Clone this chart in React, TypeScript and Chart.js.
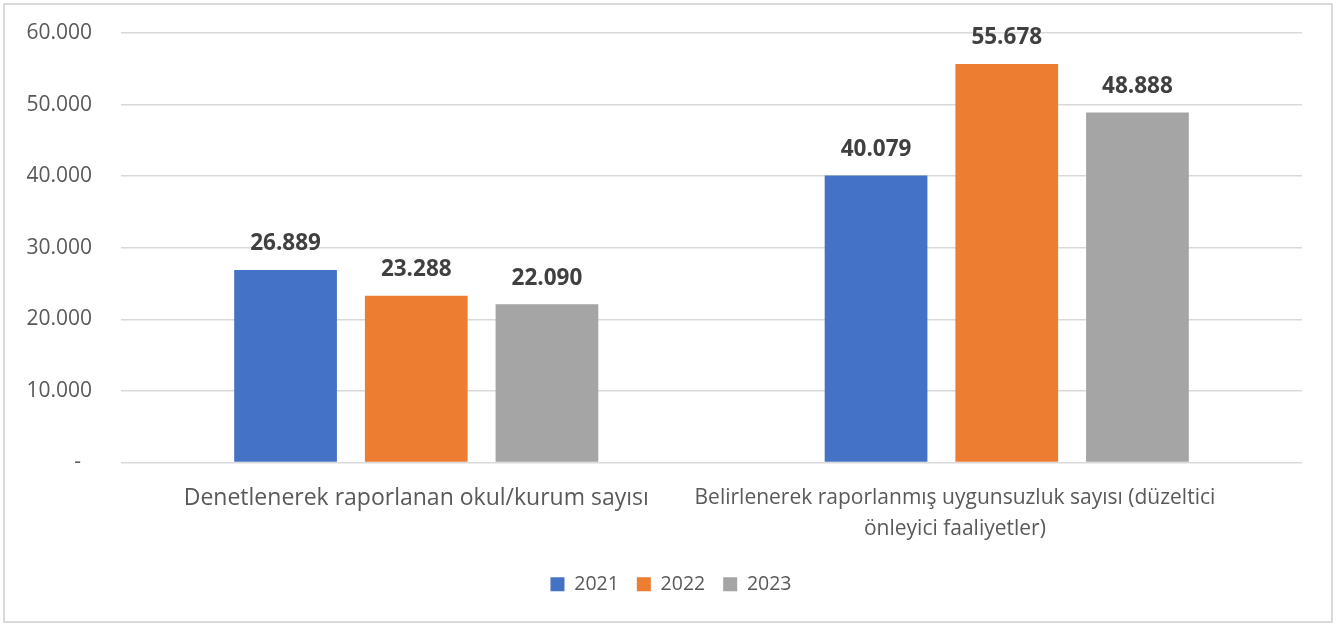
import React, { useEffect, useRef } from "react";
import { Chart, registerables } from "chart.js";

Chart.register(...registerables);

const categories: (string | string[])[] = [
  "Denetlenerek raporlanan okul/kurum sayısı",
  [
    "Belirlenerek raporlanmış uygunsuzluk sayısı (düzeltici" + "\u00A0".repeat(19),
    "önleyici faaliyetler)" + "\u00A0".repeat(19),
  ],
];
const seriesNames = ["2021", "2022", "2023"];
const values2021 = [26889, 40079];
const values2022 = [23288, 55678];
const values2023 = [22090, 48888];
const seriesColors = ["#4472C4", "#ED7D31", "#A5A5A5"];
const yMax = 60000;
const yStep = 10000;

const FONT = '"Open Sans", Lato, sans-serif';

const fmt = (n: number) =>
  String(Math.round(n)).replace(/\B(?=(\d{3})+(?!\d))/g, ".");

const dataLabelPlugin = {
  id: "dataLabels",
  afterDatasetsDraw(chart: any) {
    const ctx = chart.ctx;
    ctx.save();
    ctx.font = `bold 22.5px ${FONT}`;
    ctx.fillStyle = "#404040";
    ctx.textAlign = "center";
    ctx.textBaseline = "middle";
    chart.data.datasets.forEach((ds: any, i: number) => {
      const meta = chart.getDatasetMeta(i);
      meta.data.forEach((el: any, j: number) => {
        ctx.fillText(fmt(ds.data[j]), el.x, el.y - 26);
      });
    });
    ctx.restore();
  },
};

const noScalePadding = (s: any) => {
  s.paddingTop = 0;
  s.paddingBottom = 0;
  s.paddingLeft = 0;
  s.paddingRight = 0;
};

export default function App() {
  const ref = useRef<HTMLCanvasElement | null>(null);
  useEffect(() => {
    if (!ref.current) return;
    Chart.defaults.font.family = FONT;
    const allValues = [values2021, values2022, values2023];
    const chart = new Chart(ref.current, {
      type: "bar",
      data: {
        labels: categories,
        datasets: seriesNames.map((name, i) => ({
          label: name,
          data: allValues[i],
          backgroundColor: seriesColors[i],
          borderWidth: 0,
          categoryPercentage: 0.664,
          barPercentage: 0.786,
        })),
      },
      options: {
        responsive: false,
        animation: false,
        devicePixelRatio: 1,
        layout: { padding: { top: 33, right: 20, left: 26, bottom: 20 } },
        plugins: {
          legend: {
            position: "bottom",
            labels: {
              boxWidth: 14,
              boxHeight: 14,
              padding: 18,
              color: "#595959",
              font: { size: 19.5, family: FONT },
            },
          },
          tooltip: { enabled: false },
        },
        scales: {
          x: {
            grid: { display: false },
            border: { display: false },
            ticks: {
              color: "#595959",
              padding: 12,
              maxRotation: 0,
              autoSkip: false,
              font: (c: any) => {
                const size = c.index === 1 ? 21 : 23;
                return { size, family: FONT, lineHeight: 31 / size };
              },
            },
            afterFit: (s: any) => {
              s.height = 94;
              noScalePadding(s);
            },
          },
          y: {
            min: 0,
            max: yMax,
            grid: { color: "#d9d9d9", lineWidth: 1.5, drawTicks: false },
            border: { display: false },
            ticks: {
              stepSize: yStep,
              padding: 29,
              color: "#595959",
              font: { size: 21, family: FONT },
              callback: (v: any) =>
                Number(v) === 0 ? "-\u00A0\u00A0" : fmt(Number(v)),
            },
            afterFit: (s: any) => {
              s.width = 95;
              noScalePadding(s);
            },
          },
          yRight: {
            type: "linear",
            position: "right",
            display: true,
            grid: { display: false },
            border: { display: false },
            ticks: { display: false },
            afterFit: (s: any) => {
              s.width = 14;
              noScalePadding(s);
            },
          },
        },
      },
      plugins: [dataLabelPlugin],
    });
    return () => chart.destroy();
  }, []);
  return (
    <div
      style={{
        position: "fixed",
        left: 0,
        top: 0,
        width: 1336,
        height: 624,
        background: "#fff",
      }}
    >
      <canvas ref={ref} width={1336} height={624} style={{ display: "block" }} />
      <div
        style={{
          position: "absolute",
          left: 3,
          top: 3,
          width: 1326,
          height: 616,
          border: "2px solid #d9d9d9",
          pointerEvents: "none",
        }}
      />
    </div>
  );
}
